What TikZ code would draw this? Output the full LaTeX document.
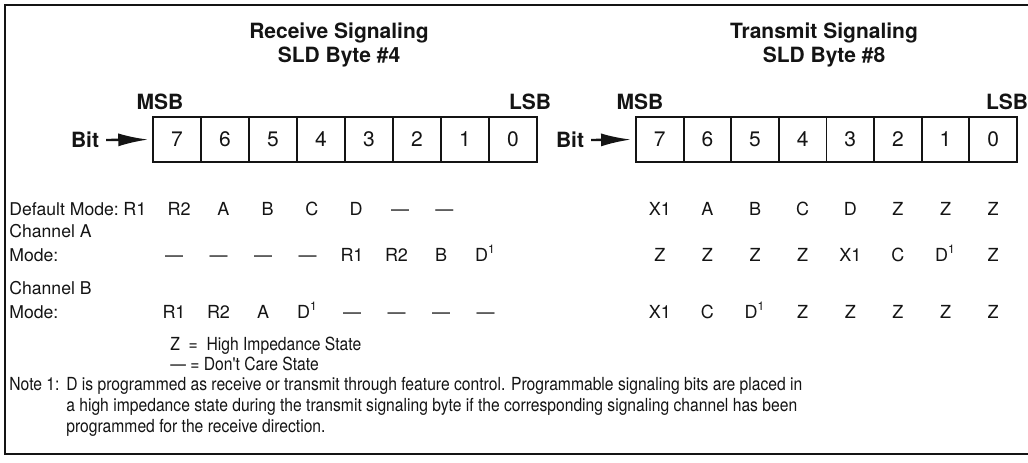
\documentclass[tikz,border=0pt]{standalone}
\usepackage{fontspec}
\setmainfont{TeX Gyre Heros}
\newfontfamily\narrowfont[FakeStretch=0.87]{TeX Gyre Heros}
\usetikzlibrary{arrows.meta}
\definecolor{ink}{HTML}{141414}
\newcommand{\dsup}{D\textsuperscript{1}}

\begin{document}
\begin{tikzpicture}[x=0.5pt,y=-0.5pt,text=ink,>=Latex,
  bitbox/.style={draw=ink,line width=0.75pt,minimum width=24pt,minimum height=22.5pt,inner sep=0pt,font=\fontsize{10.5}{12}\selectfont},
  head/.style={font=\bfseries\fontsize{10.5}{12}\selectfont},
  bitarrow/.style={ink,line width=1.2pt,-{Latex[length=15pt,width=6.5pt]},shorten >=2pt},
  val/.style={font=\fontsize{9}{10}\selectfont,inner sep=0pt,anchor=base},
  lbl/.style={font=\fontsize{8.8}{10}\selectfont,inner sep=0pt,anchor=base west},
  small/.style={font=\narrowfont\fontsize{9}{10}\selectfont,inner sep=0pt,anchor=base west}]
  \useasboundingbox (0,0) rectangle (1028,462);
  \draw[ink,line width=1.4pt] (1034,5) -- (5,5) -- (5,454) -- (1034,454);

  % receive byte
  \node[head,align=center] (rxtitle) at (339,45) {Receive Signaling\\SLD Byte \#4};
  \node[head] (rxmsb) at (160,102) {MSB};
  \node[head] (rxlsb) at (530,102) {LSB};
  % transmit byte
  \node[head,align=center] (txtitle) at (824,45) {Transmit Signaling\\SLD Byte \#8};
  \node[head] (txmsb) at (640,102) {MSB};
  \node[head] (txlsb) at (1007,102) {LSB};

  \foreach \b [count=\k from 0] in {7,6,5,4,3,2,1,0} {
    \node[bitbox] (rx\b) at (177+48*\k,139.5) {\b};
    \node[bitbox] (tx\b) at (659.8+47.625*\k,139.5) {\b};
  }
  \node[head] (rxbit) at (85,140) {Bit};
  \draw[bitarrow] (rxbit.east) -- (rx7.west);
  \node[head] (txbit) at (570,140) {Bit};
  \draw[bitarrow] (txbit.east) -- (tx7.west);

  % mode rows
  \node[lbl] (defmode) at (9,215) {Default Mode:};
  \node[lbl] (chana) at (9,237) {Channel A};
  \node[lbl] (chamode) at (9,261) {Mode:};
  \node[lbl] (chanb) at (9,294) {Channel B};
  \node[lbl] (chbmode) at (9,318) {Mode:};

  \foreach \v [count=\k from 0] in {R1,R2,A,B,C,D,\textemdash,\textemdash}
    \node[val] (rxdef\k) at (135+44.2*\k,215) {\v};
  \foreach \v [count=\k from 0] in {\textemdash,\textemdash,\textemdash,\textemdash,R1,R2,B,\dsup}
    \node[val] (rxcha\k) at (174+44.5*\k,261) {\v};
  \foreach \v [count=\k from 0] in {R1,R2,A,\dsup,\textemdash,\textemdash,\textemdash,\textemdash}
    \node[val] (rxchb\k) at (174+44.5*\k,318) {\v};

  \foreach \v [count=\k from 0] in {X1,A,B,C,D,Z,Z,Z}
    \node[val] (txdef\k) at (659.8+47.625*\k,215) {\v};
  \foreach \v [count=\k from 0] in {Z,Z,Z,Z,X1,C,\dsup,Z}
    \node[val] (txcha\k) at (659.8+47.625*\k,261) {\v};
  \foreach \v [count=\k from 0] in {X1,C,\dsup,Z,Z,Z,Z,Z}
    \node[val] (txchb\k) at (659.8+47.625*\k,318) {\v};

  % legend and note
  \node[small] (keyz) at (170,350) {Z \ = \ High Impedance State};
  \node[small] (keydash) at (170,370) {\textemdash{} = Don't Care State};
  \node[small] (notetag) at (9,390) {Note 1:};
  \node[small] (notea) at ([xshift=3pt]notetag.base east) {D is programmed as receive or transmit through feature control. Programmable signaling bits are placed in};
  \node[small] (noteb) at ([yshift=-10.5pt]notea.base west) {a high impedance state during the transmit signaling byte if the corresponding signaling channel has been};
  \node[small] (notec) at ([yshift=-10.5pt]noteb.base west) {programmed for the receive direction.};
\end{tikzpicture}
\end{document}
